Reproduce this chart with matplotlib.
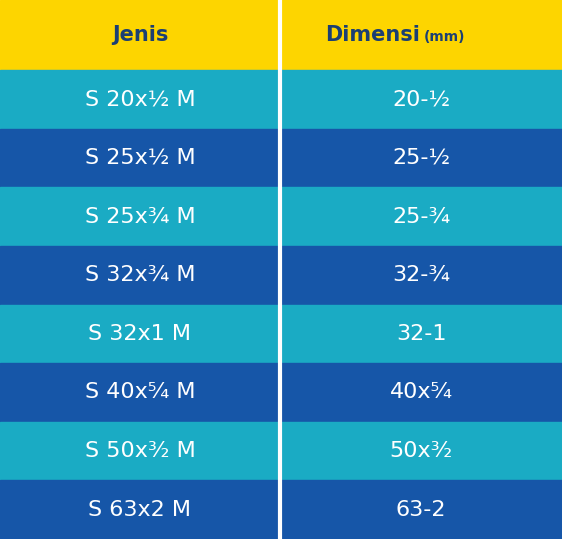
import matplotlib.pyplot as plt
from matplotlib.patches import Rectangle

headers = ["Jenis", "Dimensi"]
jenis = ["S 20x½ M", "S 25x½ M", "S 25x¾ M", "S 32x¾ M",
         "S 32x1 M", "S 40x⁵⁄₄ M", "S 50x³⁄₂ M", "S 63x2 M"]
dimensi = ["20-½", "25-½", "25-¾", "32-¾", "32-1", "40x⁵⁄₄", "50x³⁄₂", "63-2"]

W, H = 562, 539
header_h = 70
split = 280
row_h = (H - header_h) / len(jenis)
light, dark = "#1aabc4", "#1656a8"

fig = plt.figure(figsize=(W / 100, H / 100), dpi=100)
ax = fig.add_axes([0, 0, 1, 1])
ax.set_xlim(0, W)
ax.set_ylim(H, 0)
ax.axis("off")

ax.add_patch(Rectangle((0, 0), W, header_h, color="#fdd500"))
ax.text(split / 2, header_h / 2, "Jenis", ha="center", va="center",
        fontsize=15, fontweight="bold", color="#1b3f73")
ax.text(420, header_h / 2, "Dimensi", ha="right", va="center",
        fontsize=15, fontweight="bold", color="#1b3f73")
ax.text(424, header_h / 2 + 2, "(mm)", ha="left", va="center",
        fontsize=10, fontweight="bold", color="#1b3f73")

for i, (j, d) in enumerate(zip(jenis, dimensi)):
    y = header_h + i * row_h
    c = light if i % 2 == 0 else dark
    ax.add_patch(Rectangle((0, y), W, row_h, color=c))
    ax.text(split / 2, y + row_h / 2, j, ha="center", va="center",
            fontsize=16, color="white")
    ax.text((split + W) / 2, y + row_h / 2, d, ha="center", va="center",
            fontsize=16, color="white")

ax.plot([split, split], [0, H], color="white", lw=3)

fig.savefig("out.png", dpi=100)
